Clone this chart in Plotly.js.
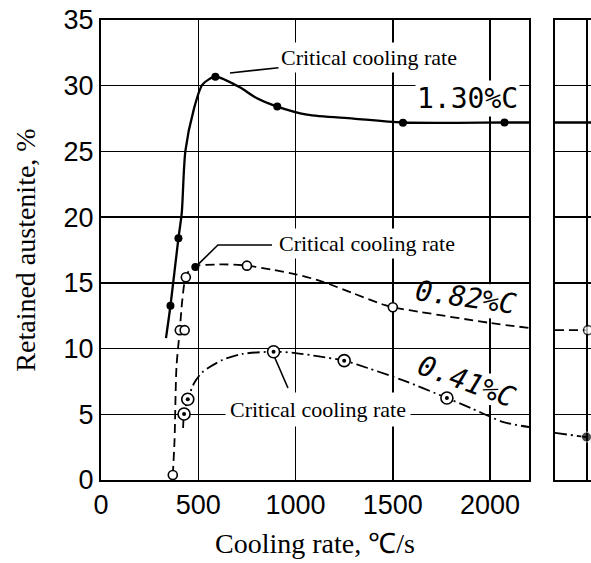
<!DOCTYPE html>
<html>
<head>
<meta charset="utf-8">
<script src="https://cdn.plot.ly/plotly-3.0.1.min.js"></script>
<style>
html,body{margin:0;padding:0;background:#fff;}
#chart{width:591px;height:563px;}
</style>
</head>
<body>
<div id="chart"></div>
<script>
// ---------------- data ----------------
const xTickVals = [0, 500, 1000, 1500, 2000];
const yTickVals = [0, 5, 10, 15, 20, 25, 30, 35];

// 1.30 %C  (solid line, filled dots)
const c130LineX = [334, 357, 398, 415, 434, 477, 520, 556, 588, 711, 799, 906, 1058, 1297, 1552, 2074, 2200];
const c130LineY = [10.8, 13.26, 18.4, 20.3, 25.06, 28.2, 30.06, 30.5, 30.7, 29.9, 29.07, 28.41, 27.8, 27.5, 27.2, 27.2, 27.2];
const c130PtsX  = [357, 398, 588, 906, 1552, 2074];
const c130PtsY  = [13.26, 18.4, 30.69, 28.41, 27.19, 27.2];

// 0.82 %C  (dashed line, open circles, filled critical point)
const c082LineX = [369, 378, 388, 405, 418, 436, 470, 609, 750, 880, 1000, 1129, 1297, 1460, 1500, 1636, 2000, 2200];
const c082LineY = [0.38, 3.04, 8.6, 11.4, 13.7, 15.45, 16.2, 16.4, 16.31, 16.0, 15.65, 15.14, 14.2, 13.3, 13.14, 12.8, 11.95, 11.57];
const c082PtsX  = [369, 405, 430, 436, 750, 1500];
const c082PtsY  = [0.38, 11.4, 11.4, 15.43, 16.31, 13.14];
const c082CritX = [485];
const c082CritY = [16.2];

// 0.41 %C  (dash-dot line, circled-dot markers)
const c041LineX = [422, 427, 446, 479, 521, 624, 727, 887, 1000, 1120, 1250, 1370, 1550, 1778, 1900, 2068, 2200];
const c041LineY = [3.96, 5.02, 6.14, 7.38, 8.2, 9.13, 9.59, 9.76, 9.66, 9.4, 9.08, 8.52, 7.6, 6.24, 5.48, 4.41, 4.03];
const c041PtsX  = [427, 446, 887, 1250, 1778];
const c041PtsY  = [5.02, 6.14, 9.76, 9.08, 6.24];

// neighbouring (cut-off) panel on the right
const p2GridX   = [32];
const p2c130X = [0, 36];   const p2c130Y = [27.2, 27.2];
const p2c082X = [0, 33];   const p2c082Y = [11.4, 11.4];
const p2c041X = [0, 31.5]; const p2c041Y = [3.58, 3.27];

// ---------------- traces ----------------
const BLACK = '#000';
const traces = [
  {x: c130LineX, y: c130LineY, mode: 'lines', line: {color: BLACK, width: 2.3, shape: 'spline', smoothing: 0.8}, hoverinfo: 'skip'},
  {x: c082LineX, y: c082LineY, mode: 'lines', line: {color: BLACK, width: 1.8, dash: '9px,5px', shape: 'spline', smoothing: 0.8}, hoverinfo: 'skip'},
  {x: c041LineX, y: c041LineY, mode: 'lines', line: {color: BLACK, width: 1.8, dash: '12px,4px,2px,4px', shape: 'spline', smoothing: 0.8}, hoverinfo: 'skip'},
  {x: c130PtsX, y: c130PtsY, mode: 'markers', name: '1.30%C', marker: {symbol: 'circle', size: 8, color: BLACK}},
  {x: c082PtsX, y: c082PtsY, mode: 'markers', name: '0.82%C', marker: {symbol: 'circle', size: 9, color: '#fff', line: {color: BLACK, width: 1.6}}},
  {x: c082CritX, y: c082CritY, mode: 'markers', marker: {symbol: 'circle', size: 8, color: BLACK}},
  {x: c041PtsX, y: c041PtsY, mode: 'markers', name: '0.41%C', marker: {symbol: 'circle', size: 12, color: '#fff', line: {color: BLACK, width: 1.6}}},
  {x: c041PtsX, y: c041PtsY, mode: 'markers', marker: {symbol: 'circle', size: 4, color: BLACK}},
  // right panel
  {x: p2c130X, y: p2c130Y, xaxis: 'x2', yaxis: 'y2', mode: 'lines', line: {color: BLACK, width: 2.3}},
  {x: p2c082X, y: p2c082Y, xaxis: 'x2', yaxis: 'y2', mode: 'lines+markers', line: {color: BLACK, width: 1.8, dash: '9px,5px'},
   marker: {size: [0, 9], color: '#fff', line: {color: BLACK, width: 1.6}}},
  {x: p2c041X, y: p2c041Y, xaxis: 'x2', yaxis: 'y2', mode: 'lines+markers', line: {color: BLACK, width: 1.8, dash: '12px,4px,2px,4px'},
   marker: {size: [0, 10], color: BLACK}}
];

const tickFont = {family: 'Liberation Sans, Arial, sans-serif', size: 27, color: BLACK};
const serif = 'Liberation Serif, "Times New Roman", serif';
const mono = 'DejaVu Sans Mono, monospace';

const layout = {
  width: 591, height: 563,
  margin: {l: 101, r: 0, t: 20, b: 83},
  paper_bgcolor: '#fff', plot_bgcolor: '#fff',
  showlegend: false,
  font: {family: serif, color: BLACK},
  xaxis: {
    domain: [0, 0.8735], range: [0, 2200], tickvals: xTickVals, ticks: '',
    showgrid: true, gridcolor: BLACK, gridwidth: 1.5, zeroline: false,
    showline: true, linecolor: BLACK, linewidth: 2, mirror: true,
    tickfont: tickFont, automargin: false,
    title: {text: 'Cooling rate, ℃/s', font: {family: serif, size: 28, color: BLACK}, standoff: 14}
  },
  yaxis: {
    range: [0, 35], tickvals: yTickVals, ticks: '',
    showgrid: true, gridcolor: BLACK, gridwidth: 1.5, zeroline: false,
    showline: true, linecolor: BLACK, linewidth: 2, mirror: true,
    tickfont: tickFont, automargin: false, ticklabelstandoff: 0,
    title: {text: 'Retained austenite, %', font: {family: serif, size: 28, color: BLACK}, standoff: 20}
  },
  xaxis2: {
    domain: [0.9265, 1], range: [0, 36], anchor: 'y2', tickvals: p2GridX, showticklabels: false, ticks: '',
    showgrid: true, gridcolor: BLACK, gridwidth: 1.5, zeroline: false,
    showline: true, linecolor: BLACK, linewidth: 2, mirror: true
  },
  yaxis2: {
    range: [0, 35], anchor: 'x2', tickvals: yTickVals, showticklabels: false, ticks: '',
    showgrid: true, gridcolor: BLACK, gridwidth: 1.5, zeroline: false,
    showline: true, linecolor: BLACK, linewidth: 2, mirror: false
  },
  shapes: [
    // gaps in the 2000 grid line behind the rotated labels (drawn between grid and traces)
    {type: 'rect', layer: 'between', xref: 'x', yref: 'y', x0: 1975, x1: 2025, y0: 12.3, y1: 14.9, fillcolor: '#fff', line: {width: 0}},
    {type: 'rect', layer: 'between', xref: 'x', yref: 'y', x0: 1975, x1: 2025, y0: 5.7, y1: 8.1, fillcolor: '#fff', line: {width: 0}},
    // pointer lines
    {type: 'path', xref: 'x', yref: 'y', path: 'M 485 16.2 L 601 17.88 L 879 17.88', line: {color: BLACK, width: 1.6}},
    {type: 'line', xref: 'x', yref: 'y', x0: 894, y0: 9.28, x1: 961, y1: 7.0, line: {color: BLACK, width: 1.6}}
  ],
  annotations: [
    {x: 663, y: 30.97, xref: 'x', yref: 'y', text: 'Critical cooling rate', showarrow: true, arrowhead: 0,
     arrowwidth: 1.6, arrowcolor: BLACK, ax: 139, ay: -15, font: {family: serif, size: 22, color: BLACK},
     bgcolor: '#fff', borderpad: 2},
    {x: 1367, y: 17.96, xref: 'x', yref: 'y', text: 'Critical cooling rate', showarrow: false,
     font: {family: serif, size: 22, color: BLACK}, bgcolor: '#fff', borderpad: 2},
    {x: 1115, y: 5.33, xref: 'x', yref: 'y', text: 'Critical cooling rate', showarrow: false,
     font: {family: serif, size: 22, color: BLACK}, bgcolor: '#fff', borderpad: 4},
    {x: 1886, y: 28.99, xref: 'x', yref: 'y', text: '1.30%C', showarrow: false,
     font: {family: mono, size: 28, color: BLACK}, bgcolor: '#fff', borderpad: 1},
    {x: 1876, y: 13.85, xref: 'x', yref: 'y', text: '0.82%C', showarrow: false, textangle: 8,
     font: {family: mono, size: 28, color: BLACK, style: 'italic'}},
    {x: 1881, y: 7.53, xref: 'x', yref: 'y', text: '0.41%C', showarrow: false, textangle: 20,
     font: {family: mono, size: 28, color: BLACK, style: 'italic'}}
  ]
};

Plotly.newPlot('chart', traces, layout, {displayModeBar: false, staticPlot: true});
</script>
</body>
</html>
